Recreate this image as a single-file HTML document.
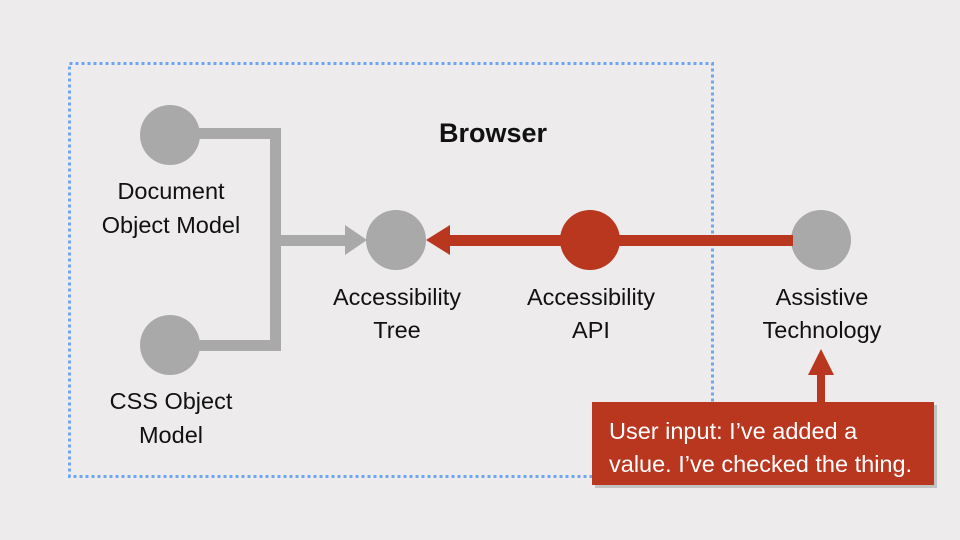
<!DOCTYPE html>
<html><head><style>
body{margin:0;width:960px;height:540px;background:#edebeb;overflow:hidden;font-family:"Liberation Sans",sans-serif}
</style></head><body>
<svg width="960" height="540" xmlns="http://www.w3.org/2000/svg" style="position:absolute;left:0;top:0">
<rect x="69.5" y="63.5" width="643" height="413" fill="none" stroke="#6ea6f2" stroke-width="3" stroke-dasharray="3,3"/>
<g fill="#a8a9a8">
<rect x="195" y="128" width="86" height="11"/>
<rect x="270" y="128" width="11" height="223"/>
<rect x="195" y="340" width="86" height="11"/>
<rect x="276" y="235" width="70" height="11"/>
<polygon points="345,225 367,240 345,255"/>
<circle cx="170" cy="135" r="30"/>
<circle cx="170" cy="345" r="30"/>
<circle cx="396" cy="240" r="30"/>
<circle cx="821" cy="240" r="30"/>
</g>
<g fill="#b9361f">
<rect x="448" y="235" width="345" height="11"/>
<polygon points="426,240 450,225 450,255"/>
<circle cx="590" cy="240" r="30"/>
<rect x="817" y="372" width="8" height="32"/>
<polygon points="821,349 808,375 834,375"/>
</g>
<rect x="595" y="405" width="342" height="83" fill="#999" opacity="0.5"/>
<rect x="592" y="402" width="342" height="83" fill="#b9361f"/>
<g font-size="23.5" fill="#111" text-anchor="middle">
<text x="493" y="142" font-weight="bold" font-size="27">Browser</text>
<text x="171" y="199">Document</text>
<text x="171" y="233">Object Model</text>
<text x="171" y="409">CSS Object</text>
<text x="171" y="443">Model</text>
<text x="397" y="305">Accessibility</text>
<text x="397" y="338">Tree</text>
<text x="591" y="305">Accessibility</text>
<text x="591" y="338">API</text>
<text x="822" y="305">Assistive</text>
<text x="822" y="338">Technology</text>
</g>
<g font-size="23.5" fill="#fff">
<text x="609" y="439">User input: I’ve added a</text>
<text x="609" y="472">value. I’ve checked the thing.</text>
</g>
</svg>
</body></html>
